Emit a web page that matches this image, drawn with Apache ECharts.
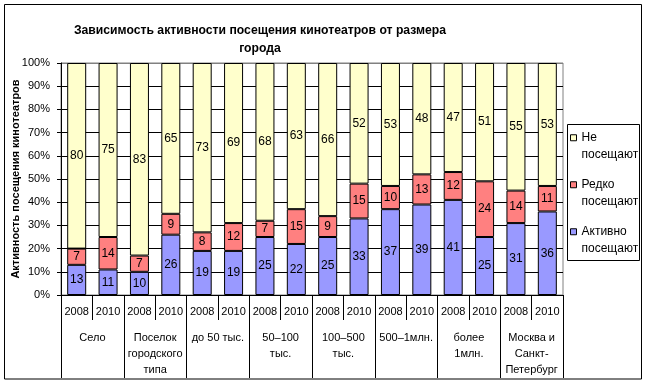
<!DOCTYPE html>
<html>
<head>
<meta charset="utf-8">
<script src="https://cdn.jsdelivr.net/npm/echarts@6/dist/echarts.min.js"></script>
<style>html,body{margin:0;padding:0;background:#fff;}#c{width:648px;height:386px;}</style>
</head>
<body>
<div id="c"></div>
<script>
var years = ['2008','2010','2008','2010','2008','2010','2008','2010','2008','2010','2008','2010','2008','2010','2008','2010'];
var groups = ['Село','Поселок\nгородского\nтипа','до 50 тыс.','50–100\nтыс.','100–500\nтыс.','500–1млн.','более\n1млн.','Москва и\nСанкт-\nПетербург'];
var active = [13,11,10,26,19,19,25,22,25,33,37,39,41,25,31,36];
var rare   = [7,14,7,9,8,12,7,15,9,15,10,13,12,24,14,11];
var never  = [80,75,83,65,73,69,68,63,66,52,53,48,47,51,55,53];
var yTicks = [0,10,20,30,40,50,60,70,80,90,100];

var FONT = '"Liberation Sans", Arial, sans-serif';
var chart = echarts.init(document.getElementById('c'));
function mk(name, data, color) {
  return {
    name: name, type: 'bar', stack: 'a', data: data, xAxisIndex: 0,
    barWidth: 19,
    itemStyle: {color: color, borderColor: '#000', borderWidth: 1},
    label: {show: true, position: 'inside', color: '#000', fontSize: 12, fontFamily: FONT},
    emphasis: {disabled: true}
  };
}
var splitColors = yTicks.map(function(v){ return v === 100 ? '#808080' : '#000'; });
chart.setOption({
  backgroundColor: '#fff',
  animation: false,
  textStyle: {fontFamily: FONT},
  title: {
    text: 'Зависимость активности посещения кинотеатров от размера\nгорода',
    left: 255, top: 17, textAlign: 'center',
    textStyle: {fontFamily: FONT, fontSize: 12.2, fontWeight: 'bold', color: '#000', lineHeight: 18}
  },
  legend: {
    orient: 'vertical', left: 570, top: 113, padding: 0,
    data: ['Не посещают','Редко посещают','Активно посещают'],
    icon: 'rect', itemWidth: 6, itemHeight: 6, itemGap: -2.5,
    itemStyle: {borderColor: '#000', borderWidth: 1},
    formatter: function(n){ return '\n' + n.replace(' ', '\n'); },
    textStyle: {fontFamily: FONT, fontSize: 12, color: '#000', lineHeight: 16.5},
    selectedMode: false
  },
  grid: {left: 61, top: 63, width: 502, height: 232, show: true, borderColor: '#808080', borderWidth: 1, containLabel: false, outerBoundsMode: 'none'},
  xAxis: [{
    type: 'category', data: years, position: 'bottom',
    axisLine: {lineStyle: {color: '#000'}},
    axisTick: {show: true, interval: 0, length: 25, lineStyle: {color: '#000'}},
    axisLabel: {interval: 0, margin: 11, color: '#000', fontSize: 11, fontFamily: FONT}
  }, {
    type: 'category', data: groups, position: 'bottom', offset: 0,
    axisLine: {show: false},
    axisTick: {show: true, interval: 0, length: 83, lineStyle: {color: '#000'}},
    axisLabel: {interval: 0, margin: 35, color: '#000', fontSize: 11, fontFamily: FONT, lineHeight: 16}
  }],
  yAxis: {
    type: 'value', min: 0, max: 100, interval: 10,
    name: 'Активность посещения кинотеатров', nameLocation: 'middle', nameGap: 40, nameMoveOverlap: false,
    nameTextStyle: {fontFamily: FONT, fontSize: 11, fontWeight: 'bold', color: '#000'},
    axisLine: {show: true, lineStyle: {color: '#000'}},
    axisTick: {show: true, length: 4, lineStyle: {color: '#000'}},
    axisLabel: {formatter: '{value}%', margin: 11, color: '#000', fontSize: 11, fontFamily: FONT},
    splitLine: {show: true, lineStyle: {color: splitColors, width: 1}}
  },
  graphic: [
    {type: 'rect', shape: {x: 4.5, y: 4.5, width: 637, height: 374.5}, style: {fill: null, stroke: '#000', lineWidth: 1}, z: 100},
    {type: 'rect', shape: {x: 567.5, y: 124.5, width: 72, height: 136}, style: {fill: null, stroke: '#000', lineWidth: 1}, z: 100}
  ],
  series: [
    mk('Активно посещают', active, '#9999FF'),
    mk('Редко посещают', rare, '#FF8080'),
    mk('Не посещают', never, '#FFFFCC')
  ]
});
</script>
</body>
</html>
